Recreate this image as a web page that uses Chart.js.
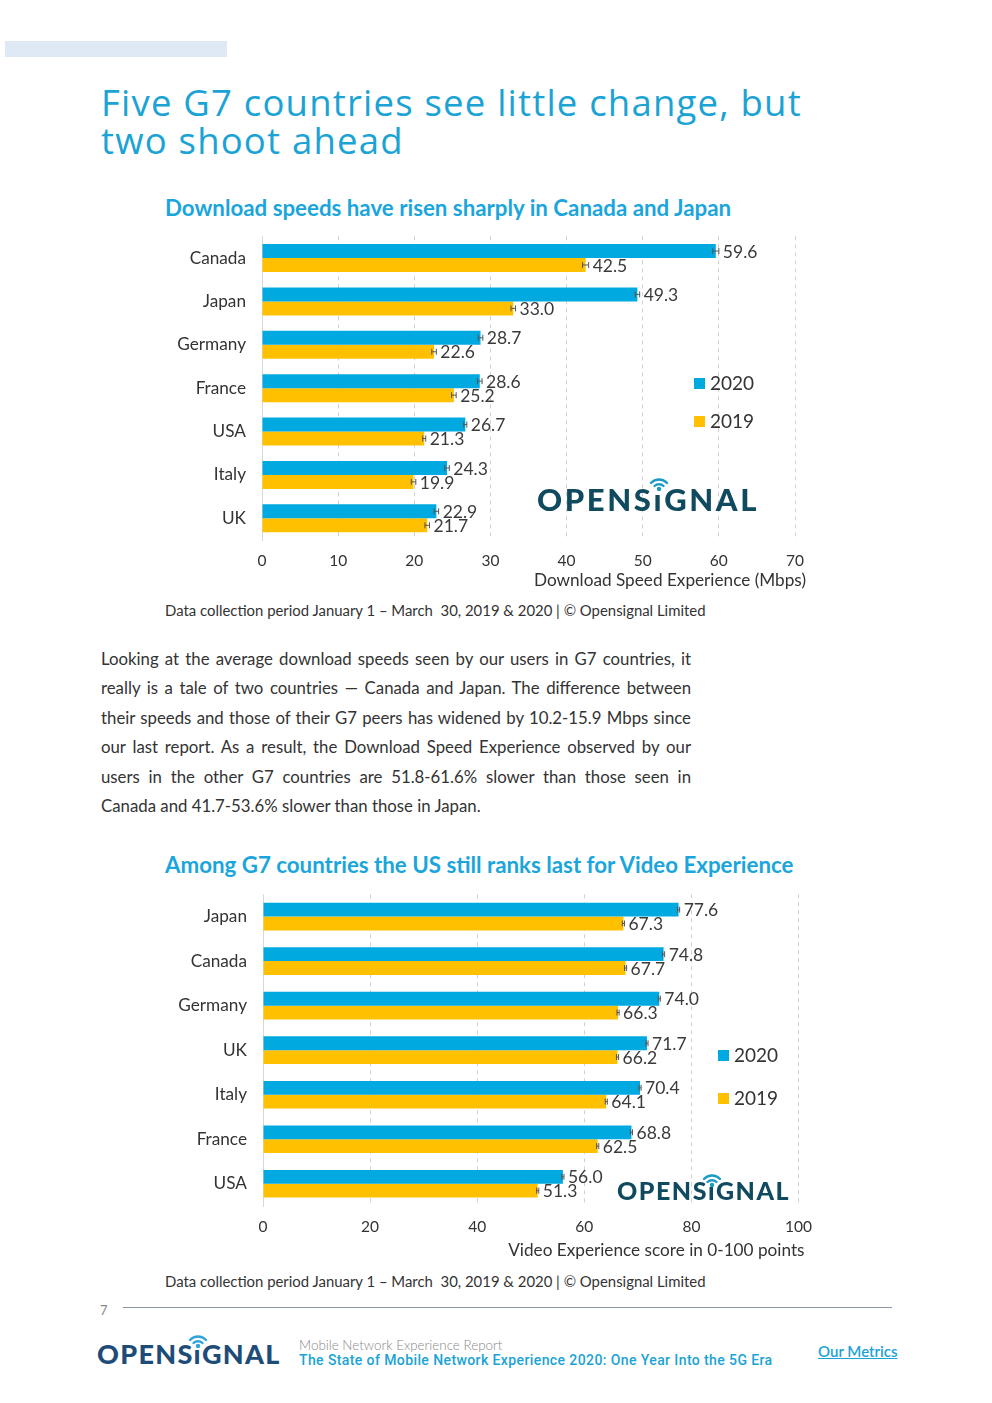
<!DOCTYPE html>
<html>
<head>
<meta charset="utf-8">
<script src="https://cdn.jsdelivr.net/npm/chart.js@4.4.0/dist/chart.umd.min.js"></script>
<style>
  body { margin: 0; background: #fff; font-family: Lato, "Open Sans", sans-serif; color: #333; }
  #page { position: relative; width: 992px; height: 1403px; overflow: hidden; }
  .abs { position: absolute; }
  .band { left: 5px; top: 41px; width: 222px; height: 16px; background: #dfe9f5; }
  .title { left: 101px; top: 83px; font-family: "Open Sans", sans-serif; font-size: 36.5px; line-height: 38px; color: #1aa3d4; letter-spacing: 1.2px; white-space: nowrap; }
  .ctitle { left: 165px; font-size: 22.3px; font-weight: 700; color: #1aa6dc; line-height: 26px; white-space: nowrap; }
  .note { left: 165px; font-size: 14.9px; color: #333; white-space: nowrap; }
  .para { left: 101px; top: 644px; width: 590px; font-size: 16.8px; line-height: 29.4px; text-align: justify; color: #333; }
  .legend div { position: absolute; white-space: nowrap; font-size: 19px; color: #333; line-height: 22px; }
  .legend span { display: inline-block; width: 11px; height: 11px; margin-right: 5px; vertical-align: 1px; }
  .logo { font-weight: 900; color: #0f4a5e; white-space: nowrap; line-height: 1; }
  .logo .i { position: relative; display: inline-block; }
  .logo svg { position: absolute; left: 50%; transform: translateX(-50%); }
  canvas { position: absolute; }
  .foot1 { left: 299px; top: 1337px; font-size: 13.4px; color: #888; font-weight: 300; white-space: nowrap; }
  .foot2 { left: 299px; top: 1352px; font-family: Roboto, sans-serif; font-size: 14px; color: #1aa3d4; font-weight: 500; white-space: nowrap; letter-spacing: 0.4px; }
  .metrics { left: 818px; top: 1342px; font-size: 15px; color: #1aa3d4; text-decoration: underline; font-weight: 600; }
</style>
</head>
<body>
<div id="page">
  <div class="abs band"></div>
  <div class="abs title">Five G7 countries see little change, but<br>two shoot ahead</div>

  <div class="abs ctitle" style="top:195px">Download speeds have risen sharply in Canada and Japan</div>
  <canvas id="speedChart" style="left:160px;top:210px;width:660px;height:382px" width="660" height="382"></canvas>
  <div class="abs legend" id="legend1" style="left:694px;top:372px"></div>
  <div class="abs logo" id="logo1" style="left:537px;top:484px;font-size:31px;letter-spacing:2.6px"></div>
  <div class="abs note" style="top:601px">Data collection period January 1 – March&nbsp; 30, 2019 &amp; 2020 | © Opensignal Limited</div>

  <div class="abs para">Looking at the average download speeds seen by our users in G7 countries, it really is a tale of two countries — Canada and Japan. The difference between their speeds and those of their G7 peers has widened by 10.2-15.9 Mbps since our last report. As a result, the Download Speed Experience observed by our users in the other G7 countries are 51.8-61.6% slower than those seen in Canada and 41.7-53.6% slower than those in Japan.</div>

  <div class="abs ctitle" style="top:852px">Among G7 countries the US still ranks last for Video Experience</div>
  <canvas id="videoChart" style="left:160px;top:868px;width:664px;height:395px" width="664" height="395"></canvas>
  <div class="abs legend" id="legend2" style="left:718px;top:1044px"></div>
  <div class="abs logo" id="logo2" style="left:617px;top:1178px;font-size:25px;letter-spacing:1.5px"></div>
  <div class="abs note" style="top:1272px">Data collection period January 1 – March&nbsp; 30, 2019 &amp; 2020 | © Opensignal Limited</div>

  <div class="abs" style="left:100px;top:1302px;font-size:13px;color:#888">7</div>
  <div class="abs" style="left:123px;top:1307px;width:769px;height:1px;background:#8a93a8"></div>
  <div class="abs logo" id="logo3" style="left:97px;top:1340px;font-size:27px;letter-spacing:1.3px;color:#1e4c78"></div>
  <div class="abs foot1">Mobile Network Experience Report</div>
  <div class="abs foot2">The State of Mobile Network Experience 2020: One Year Into the 5G Era</div>
  <div class="abs metrics">Our Metrics</div>
</div>

<script>
// chart 1 - download speed
const speedCountries = ['Canada', 'Japan', 'Germany', 'France', 'USA', 'Italy', 'UK'];
const speed2020 = [59.6, 49.3, 28.7, 28.6, 26.7, 24.3, 22.9];
const speed2019 = [42.5, 33.0, 22.6, 25.2, 21.3, 19.9, 21.7];
const speedErr2020 = [0.4, 0.3, 0.3, 0.3, 0.2, 0.3, 0.3];
const speedErr2019 = [0.4, 0.3, 0.3, 0.3, 0.2, 0.3, 0.3];
const speedTicks = [0, 10, 20, 30, 40, 50, 60, 70];

// chart 2 - video experience
const videoCountries = ['Japan', 'Canada', 'Germany', 'UK', 'Italy', 'France', 'USA'];
const video2020 = [77.6, 74.8, 74.0, 71.7, 70.4, 68.8, 56.0];
const video2019 = [67.3, 67.7, 66.3, 66.2, 64.1, 62.5, 51.3];
const videoErr2020 = [0.2, 0.2, 0.2, 0.2, 0.2, 0.2, 0.2];
const videoErr2019 = [0.2, 0.2, 0.2, 0.2, 0.2, 0.2, 0.2];
const videoTicks = [0, 20, 40, 60, 80, 100];

const seriesNames = ['2020', '2019'];
const seriesColors = ['#00a9e0', '#ffc000'];

Chart.defaults.font.family = 'Lato';
Chart.defaults.color = '#333';

// error bars + value labels + axis title (sticks out a bit past the plot, like the original)
const barExtras = {
    id: 'barExtras',
    afterDatasetsDraw(chart) {
        let ctx = chart.ctx;
        let x = chart.scales.x;
        ctx.save();
        chart.data.datasets.forEach(function (ds, di) {
            let meta = chart.getDatasetMeta(di);
            meta.data.forEach(function (bar, i) {
                let v = ds.data[i], e = ds.errors[i];
                let x1 = x.getPixelForValue(v - e), x2 = x.getPixelForValue(v + e);
                ctx.strokeStyle = '#555';
                ctx.lineWidth = 1;
                ctx.beginPath();
                ctx.moveTo(x1, bar.y); ctx.lineTo(x2, bar.y);
                ctx.moveTo(x1, bar.y - 3); ctx.lineTo(x1, bar.y + 3);
                ctx.moveTo(x2, bar.y - 3); ctx.lineTo(x2, bar.y + 3);
                ctx.stroke();
                ctx.fillStyle = '#3a3a3a';
                ctx.font = '17.5px Lato';
                ctx.textAlign = 'left';
                ctx.textBaseline = 'middle';
                ctx.fillText(v.toFixed(1), Math.max(x2, bar.x) + 4, bar.y + 1);
            });
        });
        let t = chart.options.axisTitle;
        ctx.fillStyle = '#333';
        ctx.font = '17.2px Lato';
        ctx.textAlign = 'right';
        ctx.textBaseline = 'middle';
        ctx.fillText(t.text, x.right + t.shift, x.bottom - t.up);
        ctx.restore();
    }
};

function makeChart(id, labels, a, b, ea, eb, ticks, axisTitle, yWidth, xHeight, padRight, catPct) {
    return new Chart(document.getElementById(id), {
        type: 'bar',
        data: {
            labels: labels,
            datasets: [
                { label: seriesNames[0], data: a, errors: ea, backgroundColor: seriesColors[0] },
                { label: seriesNames[1], data: b, errors: eb, backgroundColor: seriesColors[1] }
            ]
        },
        options: {
            indexAxis: 'y',
            responsive: false,
            animation: false,
            axisTitle: axisTitle,
            layout: { padding: { top: 4, right: padRight, left: 0, bottom: 0 } },
            datasets: { bar: { barPercentage: 1, categoryPercentage: catPct } },
            plugins: { legend: { display: false }, tooltip: { enabled: false } },
            scales: {
                x: {
                    min: ticks[0],
                    max: ticks[ticks.length - 1],
                    afterBuildTicks(scale) { scale.ticks = ticks.map(v => ({ value: v })); },
                    afterFit(scale) { scale.height = xHeight; },
                    grid: {
                        drawTicks: false,
                        color: c => c.tick && c.tick.value === 0 ? 'rgba(0,0,0,0)' : '#d0d0d0'
                    },
                    border: { display: false, dash: [4, 4] },
                    ticks: { padding: 12, font: { size: 15.5 }, color: '#333' }
                },
                y: {
                    afterFit(scale) { scale.width = yWidth; },
                    grid: { display: false, drawTicks: false },
                    border: { display: true, color: '#d9d9d9', width: 1 },
                    ticks: { padding: 16, font: { size: 17.2 }, color: '#333' }
                }
            }
        },
        plugins: [barExtras]
    });
}

makeChart('speedChart', speedCountries, speed2020, speed2019, speedErr2020, speedErr2019,
    speedTicks, { text: 'Download Speed Experience (Mbps)', shift: 11, up: 12 }, 102, 52, 25, 0.645);
makeChart('videoChart', videoCountries, video2020, video2019, videoErr2020, videoErr2019,
    videoTicks, { text: 'Video Experience score in 0-100 points', shift: 6, up: 13 }, 103, 57, 22, 0.62);

// legends
function fillLegend(id, gap) {
    let $c = document.getElementById(id);
    let html = '';
    seriesNames.forEach(function (n, i) {
        html += '<div style="top:' + (i * gap) + 'px"><span style="background:' + seriesColors[i] + '"></span>' + n + '</div>';
    });
    $c.innerHTML = html;
}
fillLegend('legend1', 38);
fillLegend('legend2', 43);

// logo
function fillLogo(id, wifi) {
    document.getElementById(id).innerHTML = 'OPENS<span class="i">ı<svg width="22" height="16" viewBox="0 0 22 16" style="top:-0.28em">' +
        '<g fill="none" stroke="' + wifi + '" stroke-width="2.4" stroke-linecap="round">' +
        '<path d="M3 8 A11 11 0 0 1 19 8"/><path d="M6.5 11 A6.5 6.5 0 0 1 15.5 11"/></g>' +
        '<circle cx="11" cy="14" r="2.2" fill="' + wifi + '"/></svg></span>GNAL';
}
fillLogo('logo1', '#1b9ac4');
fillLogo('logo2', '#1b9ac4');
fillLogo('logo3', '#2fa3dc');
</script>
</body>
</html>
